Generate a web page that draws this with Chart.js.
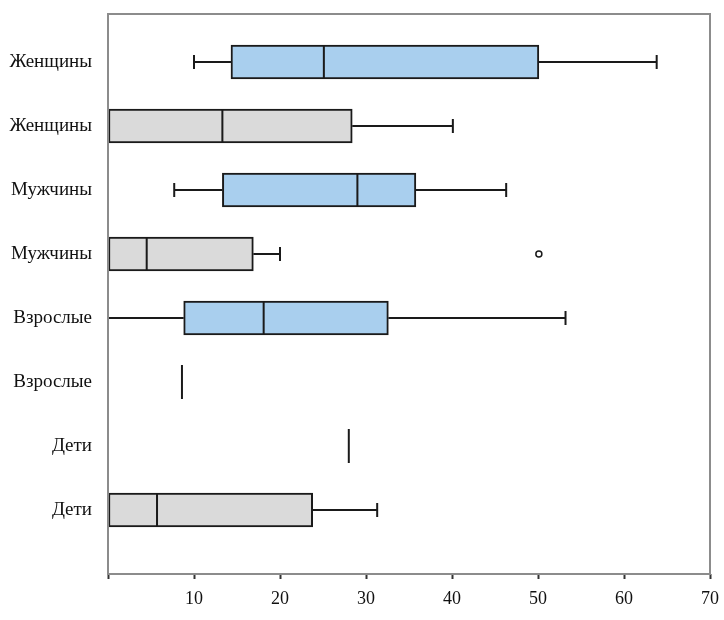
<!DOCTYPE html>
<html>
<head>
<meta charset="utf-8">
<script src="https://cdn.jsdelivr.net/npm/chart.js@4.4.1/dist/chart.umd.min.js"></script>
<style>
	body { margin: 0; background: #fff; }
</style>
</head>
<body>
<canvas id="boxPlot" width="724" height="620"></canvas>
<script>
// categories top to bottom, series 0 = blue, 1 = grey
let categories  = ['Женщины', 'Женщины', 'Мужчины', 'Мужчины', 'Взрослые', 'Взрослые', 'Дети', 'Дети'],
	series      = [0, 1, 0, 1, 0, 1, 0, 1],
	whiskerLow  = [10.0, 0, 7.7, 0, 0, 8.6, 28.0, 0],
	q1          = [14.3, 0, 13.3, 0, 8.8, 8.6, 28.0, 0],
	median      = [25.1, 13.3, 29.0, 4.5, 18.1, 8.6, 28.0, 5.7],
	q3          = [50.1, 28.4, 35.8, 16.9, 32.6, 8.6, 28.0, 23.8],
	whiskerHigh = [63.8, 40.1, 46.3, 20.0, 53.2, 8.6, 28.0, 31.3],
	outlierRow  = [4],
	outlierVal  = [50.1],
	xTicks      = [10, 20, 30, 40, 50, 60, 70];

let seriesColors = ['#a9cfee', '#dadada'];

Chart.defaults.font.family = '"Liberation Serif", "Times New Roman", serif';
Chart.defaults.font.size = 18;
Chart.defaults.color = '#111';

// whiskers, caps and medians, drawn from the scales
let boxExtras = {
	id : 'boxExtras',
	afterDatasetsDraw : function(chart) {
		let ctx = chart.ctx,
			xs = chart.scales.x,
			ys = chart.scales.y,
			half = 17,
			cap = 7;
		ctx.save();
		ctx.strokeStyle = '#1a1a1a';
		ctx.lineWidth = 2;
		categories.forEach(function(c, i) {
			let y = ys.getPixelForValue(i + 1);
			ctx.beginPath();
			if (whiskerLow[i] < q1[i]) {
				let a = xs.getPixelForValue(whiskerLow[i]), b = xs.getPixelForValue(q1[i]);
				ctx.moveTo(a, y); ctx.lineTo(b, y);
				ctx.moveTo(a, y - cap); ctx.lineTo(a, y + cap);
			}
			if (whiskerHigh[i] > q3[i]) {
				let a = xs.getPixelForValue(q3[i]), b = xs.getPixelForValue(whiskerHigh[i]);
				ctx.moveTo(a, y); ctx.lineTo(b, y);
				ctx.moveTo(b, y - cap); ctx.lineTo(b, y + cap);
			}
			let m = xs.getPixelForValue(median[i]);
			ctx.moveTo(m, y - half); ctx.lineTo(m, y + half);
			ctx.stroke();
		});
		let area = chart.chartArea;
		ctx.strokeStyle = '#8c8c8c';
		ctx.strokeRect(area.left, area.top, area.right - area.left, area.bottom - area.top);
		ctx.restore();
	}
};

let chartBox = new Chart(document.getElementById('boxPlot').getContext('2d'), {
	type : 'bar',
	data : {
		datasets : [
			{
				type            : 'bar',
				label           : 'box',
				data            : categories.map(function(c, i) { return { y : i + 1, x : [q1[i], q3[i]] }; }),
				backgroundColor : series.map(function(s) { return seriesColors[s]; }),
				borderColor     : '#1a1a1a',
				borderWidth     : 2,
				borderSkipped   : false,
				barThickness    : 34
			},
			{
				type                 : 'scatter',
				label                : 'outliers',
				data                 : outlierRow.map(function(r, i) { return { x : outlierVal[i], y : r }; }),
				pointRadius          : 3,
				pointBackgroundColor : '#fff',
				pointBorderColor     : '#1a1a1a',
				pointBorderWidth     : 1.5
			}
		]
	},
	options : {
		indexAxis           : 'y',
		responsive          : false,
		animation           : false,
		devicePixelRatio    : 1,
		layout              : { padding : { top : 14, right : 14, left : 0, bottom : 0 } },
		plugins             : { legend : { display : false }, tooltip : { enabled : false } },
		scales : {
			x : {
				type   : 'linear',
				min    : 0,
				max    : 70,
				border : { display : false },
				grid   : { drawOnChartArea : false, tickLength : 5, tickColor : '#333', tickWidth : 2 },
				ticks  : {
					stepSize : 10,
					padding  : 9,
					callback : function(v) { return xTicks.indexOf(v) >= 0 ? String(v) : ''; }
				},
				afterFit : function(s) { s.height = 46; s.paddingLeft = 0; s.paddingRight = 0; }
			},
			y : {
				type    : 'linear',
				min     : 0.25,
				max     : 9,
				reverse : true,
				offset  : false,
				border  : { display : false },
				grid    : { display : false, offset : false },
				ticks   : {
					padding  : 8,
					font     : { size : 19 },
					callback : function(v) { return categories[v - 1] || ''; }
				},
				afterBuildTicks : function(s) {
					s.ticks = categories.map(function(c, i) { return { value : i + 1 }; });
				},
				afterFit : function(s) { s.width = 108; s.paddingTop = 0; s.paddingBottom = 0; }
			}
		}
	},
	plugins : [boxExtras]
});
</script>
</body>
</html>
